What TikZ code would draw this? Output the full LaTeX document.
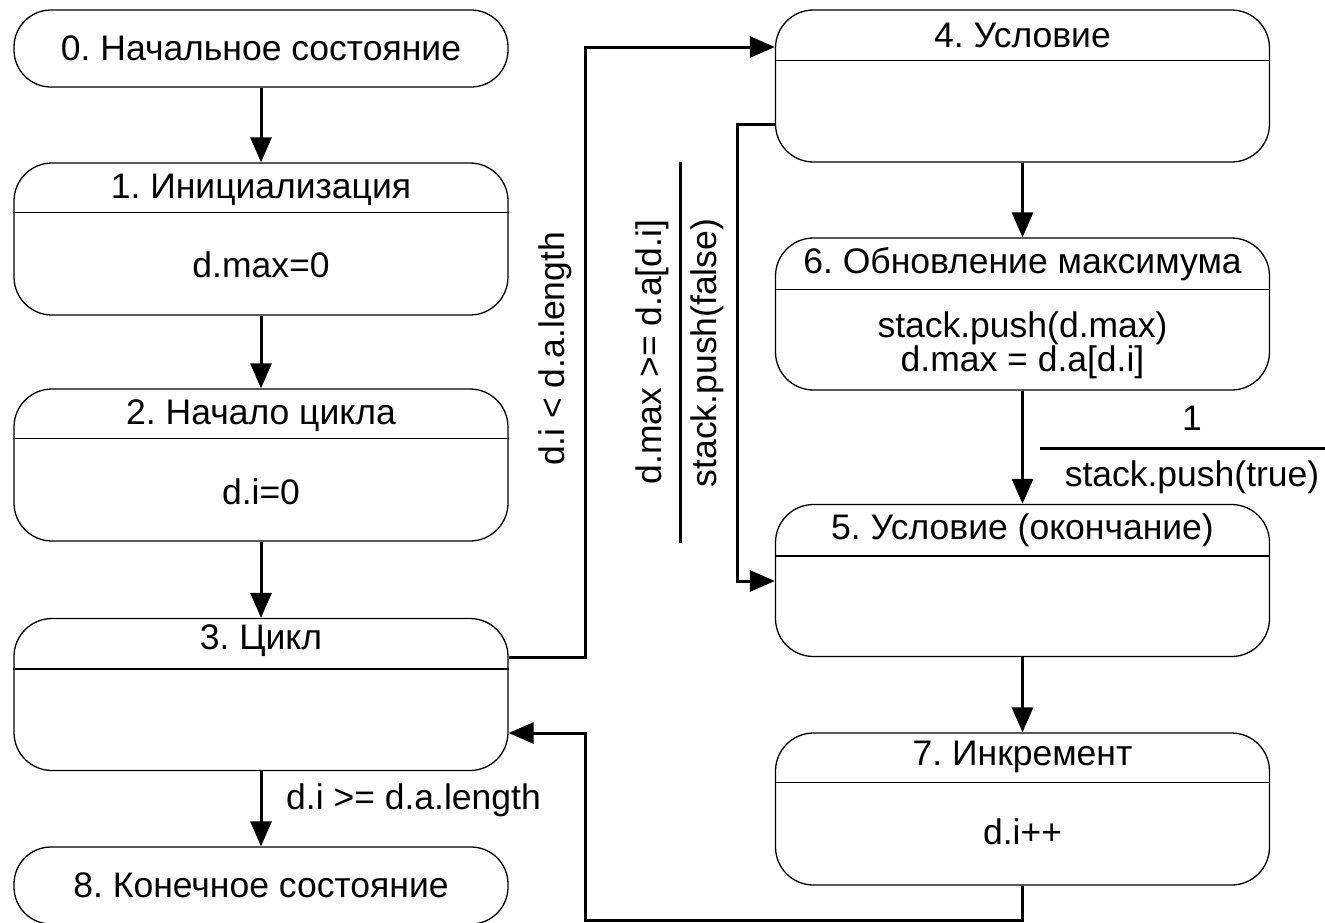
\documentclass[tikz,border=0pt]{standalone}
\usepackage{fontspec}
\setmainfont{Liberation Sans}
\usetikzlibrary{arrows.meta}
\begin{document}
\frenchspacing
\begin{tikzpicture}[x=1pt,y=-1pt,
  every node/.style={font=\fontsize{35.5}{42}\selectfont, inner sep=0pt},
  stadium/.style={draw, line width=1.3pt, rounded corners=37pt, minimum width=494pt, minimum height=77pt},
  sbox/.style={draw, line width=1.3pt, rounded corners=38pt, minimum width=494pt, minimum height=152pt},
  divl/.style={line width=1.3pt},
  arr/.style={line width=3pt, -{Triangle[length=25pt,width=21pt]}},
  ln/.style={line width=3pt}]
\useasboundingbox (0,0) rectangle (1325,922);
% left column
\node[stadium] (s0) at (261,48.5) {0. Начальное состояние};
\node[sbox] (s1) at (261,239) {};
\draw[divl] ([yshift=-50pt]s1.north west) -- ([yshift=-50pt]s1.north east);
\node (t1) at (261,190) {1. Инициализация};
\node (b1) at (261,265) {d.max=0};
\node[sbox] (s2) at (261,465) {};
\draw[divl] ([yshift=-50pt]s2.north west) -- ([yshift=-50pt]s2.north east);
\node (t2) at (261,416) {2. Начало цикла};
\node (b2) at (261,492) {d.i=0};
\node[sbox] (s3) at (261,694.5) {};
\draw[divl] ([yshift=-51pt]s3.north west) -- ([yshift=-51pt]s3.north east);
\node (t3) at (261,641) {3. Цикл};
\node[stadium] (s8) at (261,885.5) {8. Конечное состояние};
% right column
\node[sbox] (s4) at (1022.5,86) {};
\draw[divl] ([yshift=-51pt]s4.north west) -- ([yshift=-51pt]s4.north east);
\node (t4) at (1022.5,35) {4. Условие};
\node[sbox] (s6) at (1022.5,314) {};
\draw[divl] ([yshift=-52pt]s6.north west) -- ([yshift=-52pt]s6.north east);
\node (t6) at (1022.5,264) {6. Обновление максимума};
\node (b6a) at (1022.5,328) {stack.push(d.max)};
\node (b6b) at (1022.5,362) {d.max = d.a[d.i]};
\node[sbox] (s5) at (1022.5,580.5) {};
\draw[divl] ([yshift=-52pt]s5.north west) -- ([yshift=-52pt]s5.north east);
\node (t5) at (1022.5,530) {5. Условие (окончание)};
\node[sbox] (s7) at (1022.5,809) {};
\draw[divl] ([yshift=-50pt]s7.north west) -- ([yshift=-50pt]s7.north east);
\node (t7) at (1022.5,757) {7. Инкремент};
\node (b7) at (1022.5,832) {d.i++};
% vertical arrows
\draw[arr] (s0.south) -- (s1.north);
\draw[arr] (s1.south) -- (s2.north);
\draw[arr] (s2.south) -- (s3.north);
\draw[arr] (s3.south) -- (s8.north);
\draw[arr] (s4.south) -- (s6.north);
\draw[arr] (s6.south) -- (s5.north);
\draw[arr] (s5.south) -- (s7.north);
% 3 -> 4
\coordinate (c34a) at (585,657);
\coordinate (c34b) at (585,47);
\draw[arr] (s3.east |- c34a) -- (c34a) -- (c34b) -- (s4.west |- c34b);
\node[rotate=90] (l34) at (555,349) {d.i < d.a.length};
% 4 -> 5
\coordinate (c45a) at (737,124);
\coordinate (c45b) at (737,581);
\draw[arr] (s4.west |- c45a) -- (c45a) -- (c45b) -- (s5.west |- c45b);
\node[rotate=90] (l45a) at (652,352) {d.max >= d.a[d.i]};
\node[rotate=90] (l45b) at (707,353) {stack.push(false)};
\coordinate (f45a) at (680,162);
\coordinate (f45b) at (680,543);
\draw[ln] (f45a) -- (f45b);
% 6 -> 5 label
\node (l65a) at (1192,418) {1};
\node (l65b) at (1192,477) {stack.push(true)};
\coordinate (f65a) at (1040,448);
\coordinate (f65b) at (1325,448);
\draw[ln] (f65a) -- (f65b);
% 7 -> 3
\coordinate (c73a) at (1022.5,920);
\coordinate (c73b) at (585,920);
\coordinate (c73c) at (585,733);
\draw[arr] (s7.south) -- (c73a) -- (c73b) -- (c73c) -- (s3.east |- c73c);
% 3 -> 8 label
\node[anchor=west] (l38) at (286,800) {d.i >= d.a.length};
\end{tikzpicture}
\end{document}
